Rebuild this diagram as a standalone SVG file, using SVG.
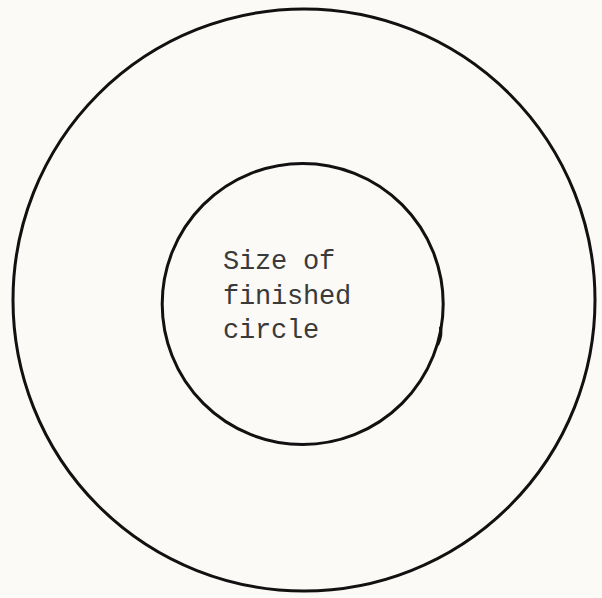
<svg xmlns="http://www.w3.org/2000/svg" width="602" height="598" viewBox="0 0 602 598">
  <style>
    .ring { fill: none; stroke: #111; stroke-width: 3; stroke-linejoin: round; stroke-linecap: round; }
    .type { font-family: "Liberation Mono", "DejaVu Sans Mono", monospace; font-size: 27px; letter-spacing: -0.2px; fill: #3a3a3a; }
  </style>
  <rect x="0" y="0" width="602" height="598" fill="#fbfaf6"/>
  <g id="outer-circle">
    <circle class="ring" cx="304" cy="300" r="291"/>
  </g>
  <g id="inner-circle">
    <circle class="ring" cx="302.7" cy="304" r="140.5"/>
    <path class="ring" d="M440.5 328 Q442 336 438 344" stroke-width="2"/>
  </g>
  <g id="label">
    <text class="type" x="223" y="269">Size of</text>
    <text class="type" x="223" y="304">finished</text>
    <text class="type" x="223" y="338">circle</text>
  </g>
</svg>
